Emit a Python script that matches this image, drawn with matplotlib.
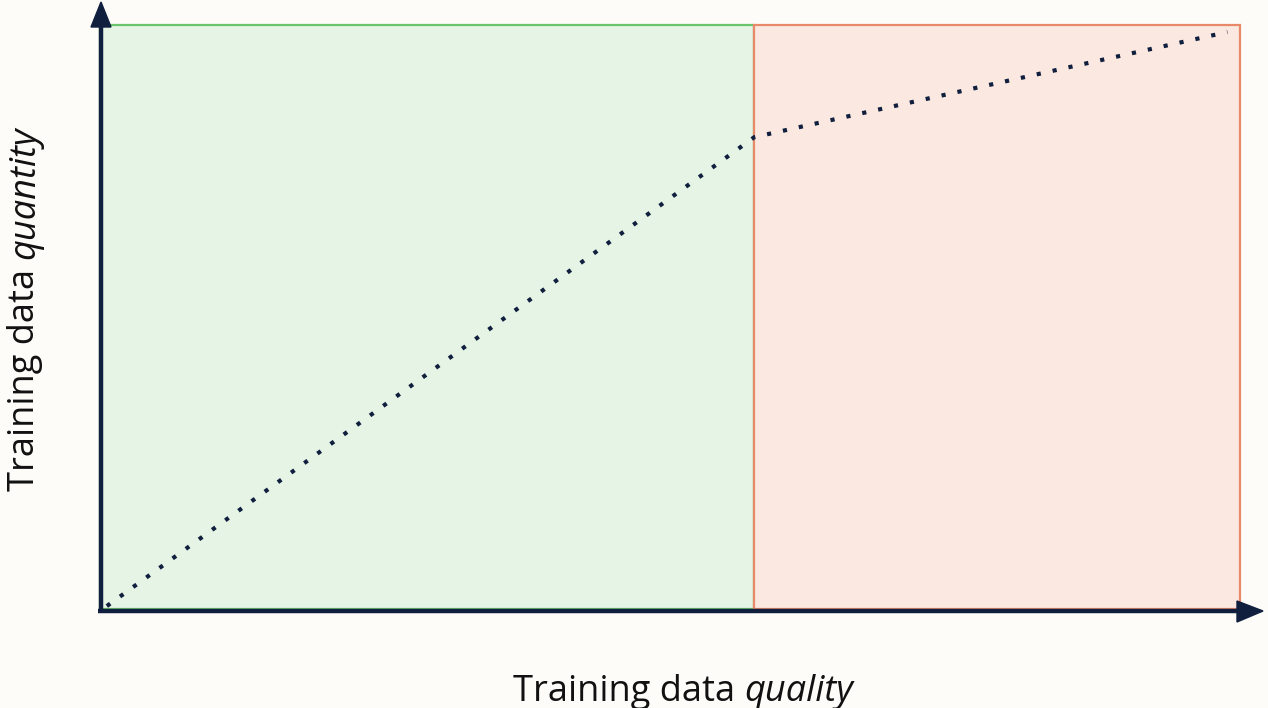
import matplotlib
matplotlib.use("Agg")
import matplotlib.pyplot as plt
from matplotlib.patches import Rectangle, Polygon
from matplotlib.offsetbox import TextArea, HPacker, AnchoredOffsetbox

# Data (normalised quality / quantity units)
regions = ["good", "diminishing"]
region_x = [0.0, 0.574, 1.0]
curve_x = [0.006, 0.574, 0.989]
curve_y = [0.005, 0.808, 0.988]
x_label_parts = ["Training data ", "quality"]
y_label_parts = ["Training data ", "quantity"]

W, H = 1268, 708
fig = plt.figure(figsize=(W / 100, H / 100), dpi=100)
fig.patch.set_facecolor("#fdfcf9")

left, right, bottom, top = 100, 1240, 708 - 609, 708 - 25
ax = fig.add_axes([left / W, bottom / H, (right - left) / W, (top - bottom) / H])
ax.set_xlim(0, 1)
ax.set_ylim(0, 1)
ax.axis("off")

fills = ["#e6f4e6", "#fbe8e0"]
edges = ["#6cc46c", "#e8896a"]
for i in range(len(regions)):
    ax.add_patch(Rectangle((region_x[i], 0), region_x[i + 1] - region_x[i], 1,
                           facecolor=fills[i], edgecolor=edges[i], lw=1.6,
                           clip_on=False, zorder=1))

navy = "#0f1f3d"
ax.plot(curve_x, curve_y, color=navy, lw=3.0, dashes=(1.0, 2.9),
        dash_capstyle="butt", zorder=3, clip_on=False)


def fx(px):
    return px / W


def fy(py):
    return 1 - py / H


fig.add_artist(plt.Line2D([fx(101), fx(101)], [fy(613), fy(20)], color=navy, lw=3.2,
                          solid_capstyle="butt"))
fig.add_artist(plt.Line2D([fx(98), fx(1245)], [fy(611), fy(611)], color=navy, lw=3.2,
                          solid_capstyle="butt"))
fig.add_artist(Polygon([[fx(91), fy(27)], [fx(111), fy(27)], [fx(101), fy(2)]],
                       closed=True, color=navy, transform=fig.transFigure))
fig.add_artist(Polygon([[fx(1237), fy(601)], [fx(1237), fy(622)], [fx(1263), fy(611)]],
                       closed=True, color=navy, transform=fig.transFigure))

font = "Open Sans"
fs = 26
tcol = "#111111"


def make_label(parts):
    a = TextArea(parts[0], textprops=dict(fontsize=fs, family=font, color=tcol))
    b = TextArea(parts[1], textprops=dict(fontsize=fs, family=font, style="italic",
                                          color=tcol))
    return HPacker(children=[a, b], pad=0, sep=0, align="baseline")


xl = AnchoredOffsetbox(loc="center", child=make_label(x_label_parts), frameon=False,
                       bbox_to_anchor=(fx(683), fy(692)), bbox_transform=fig.transFigure,
                       borderpad=0, pad=0)
fig.add_artist(xl)

# y label (rotated), plain part then italic part
ytxt = fig.text(fx(25), fy(305), y_label_parts[0] + y_label_parts[1], fontsize=fs,
                family=font, rotation=90, ha="center", va="center", color=tcol)
fig.canvas.draw()
bb = ytxt.get_window_extent()
ytxt.remove()
p1 = fig.text(fx(25), bb.y0 / H, y_label_parts[0], fontsize=fs, family=font,
              rotation=90, ha="center", va="bottom", color=tcol)
fig.canvas.draw()
b1 = p1.get_window_extent()
fig.text(fx(25), b1.y1 / H, y_label_parts[1], fontsize=fs, family=font, style="italic",
         rotation=90, ha="center", va="bottom", color=tcol)

fig.savefig("out.png", dpi=100, facecolor=fig.get_facecolor())
